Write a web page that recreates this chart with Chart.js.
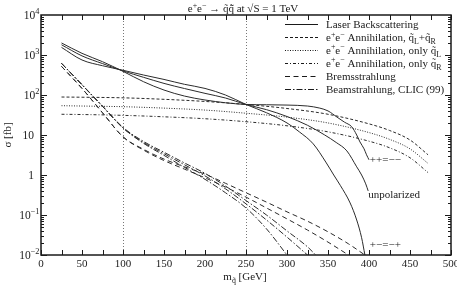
<!DOCTYPE html>
<html>
<head>
<meta charset="utf-8">
<script src="https://cdn.jsdelivr.net/npm/chart.js@4.4.1/dist/chart.umd.min.js"></script>
<style>
  html, body { margin: 0; padding: 0; background: #fff; }
</style>
</head>
<body>
<canvas id="squarkChart" width="457" height="287"></canvas>
<script>
// ---- data (squark mass in GeV, cross section in fb) ----
// laser backscattering, ++ = --
const ppMass  = [25, 50, 75, 100, 125, 150, 175, 200, 225, 250, 275, 300, 325, 340, 350, 361, 370, 379, 385, 389, 394, 397, 400];
const ppSigma = [2000, 1100, 680, 390, 215, 133, 94, 75, 64, 58, 57, 56, 53, 47, 40, 28, 21, 16, 10, 6.7, 4.5, 3.2, 2.4];
// laser backscattering, unpolarized
const unpolMass  = [25, 50, 75, 100, 125, 150, 175, 200, 225, 250, 275, 300, 325, 346, 360, 373, 385, 391, 396, 399];
const unpolSigma = [1800, 950, 610, 400, 277, 195, 145, 110, 84, 58, 43, 29, 17.5, 10, 6.5, 4, 1.6, 1.0, 0.6, 0.4];
// laser backscattering, +- = -+
const pmMass  = [25, 50, 75, 100, 125, 150, 175, 200, 225, 250, 275, 300, 315, 332, 348, 357, 365, 377, 385, 391, 395];
const pmSigma = [1550, 750, 540, 415, 316, 245, 185, 146, 100, 58, 36, 20, 12, 6, 2, 1.0, 0.55, 0.2, 0.075, 0.027, 0.01];

// e+e- annihilation
const eeMass    = [25, 50, 100, 150, 200, 250, 300, 350, 400, 425, 450, 472];
const eeLRSigma = [89, 88, 85, 78, 69, 58, 46, 33, 19, 13, 7.5, 3.2];
const eeLSigma  = [54, 53, 51, 47, 42, 35, 28, 20, 11.5, 7.8, 4.5, 1.95];
const eeRSigma  = [33, 32.5, 31, 28.5, 25.5, 21.5, 17, 12, 7, 4.8, 2.7, 1.15];

// bremsstrahlung
const bremsAMass  = [25, 50, 75, 100, 125, 150, 175, 200, 225, 250, 275, 300, 325, 350, 375, 395];
const bremsASigma = [520, 146, 36, 9, 4.4, 2.5, 1.6, 1.05, 0.62, 0.36, 0.21, 0.12, 0.07, 0.038, 0.019, 0.01];
const bremsBMass  = [25, 50, 75, 100, 125, 150, 175, 200, 225, 250, 275, 300, 325, 350, 375];
const bremsBSigma = [520, 146, 36, 9, 4.2, 2.3, 1.4, 0.85, 0.5, 0.28, 0.15, 0.08, 0.042, 0.021, 0.01];

// beamstrahlung, CLIC (99)
const beamAMass  = [25, 50, 75, 100, 125, 150, 175, 200, 225, 250, 275, 300];
const beamASigma = [620, 180, 52, 15, 6.2, 3.1, 1.55, 0.78, 0.36, 0.15, 0.045, 0.01];
const beamBMass  = [25, 50, 75, 100, 125, 150, 175, 200, 225, 250, 275, 300, 325];
const beamBSigma = [620, 180, 52, 15, 6.5, 3.4, 1.8, 0.95, 0.45, 0.19, 0.075, 0.028, 0.01];
const beamCMass  = [25, 50, 75, 100, 125, 150, 175, 200, 225, 250, 275, 300, 325, 335];
const beamCSigma = [620, 182, 53, 15.5, 6.9, 3.7, 2.0, 1.1, 0.53, 0.23, 0.1, 0.04, 0.016, 0.01];

// axes
const xTickValues = [0, 50, 100, 150, 200, 250, 300, 350, 400, 450, 500];
const yTickValues = [0.01, 0.1, 1, 10, 100, 1000, 10000];
const yTickLabels = ['10^{\u22122}', '10^{\u22121}', '1', '10', '10^{2}', '10^{3}', '10^{4}'];
const guideMasses = [100, 250];

// legend and labels
const legendLabels = [
  'Laser Backscattering',
  'e^{+}e^{\u2212} Annihilation, q\u0303_{L}+q\u0303_{R}',
  'e^{+}e^{\u2212} Annihilation, only q\u0303_{L}',
  'e^{+}e^{\u2212} Annihilation, only q\u0303_{R}',
  'Bremsstrahlung',
  'Beamstrahlung, CLIC (99)'
];
const annotTexts = ['++=\u2212\u2212', 'unpolarized', '+\u2212=\u2212+'];
const annotMass  = [401, 399, 401];
const annotSigma = [2.5, 0.34, 0.019];

// ---- styles ----
const SERIF = '"Liberation Serif", "DejaVu Serif", serif';
const INK = '#1a1a1a';
const LINE = '#2b2b2b';
const dashes = [[], [3, 2], [1, 1.5], [3, 2, 1, 2], [5, 3.5], [6, 2, 1.5, 2]];

function pts(ms, ss) { return ms.map((m, i) => ({ x: m, y: ss[i] })); }
function curve(ms, ss, style) {
  return {
    data: pts(ms, ss),
    borderColor: LINE,
    borderWidth: 1,
    borderDash: dashes[style],
    pointRadius: 0,
    fill: false,
    cubicInterpolationMode: 'monotone'
  };
}

const datasets = [
  curve(ppMass, ppSigma, 0),
  curve(unpolMass, unpolSigma, 0),
  curve(pmMass, pmSigma, 0),
  curve(eeMass, eeLRSigma, 1),
  curve(eeMass, eeLSigma, 2),
  curve(eeMass, eeRSigma, 3),
  curve(bremsAMass, bremsASigma, 4),
  curve(bremsBMass, bremsBSigma, 4),
  curve(beamAMass, beamASigma, 5),
  curve(beamBMass, beamBSigma, 5),
  curve(beamCMass, beamCSigma, 5)
];

// draws text with ^{sup} and _{sub} parts
function drawRich(ctx, str, x, y, size, align) {
  const segs = [];
  const re = /([_^])\{([^}]*)\}|([^_^]+)/g;
  let m;
  while ((m = re.exec(str))) {
    if (m[3]) segs.push({ t: m[3], k: 0 });
    else segs.push({ t: m[2], k: m[1] === '^' ? 1 : -1 });
  }
  const small = size * 0.72;
  let w = 0;
  segs.forEach(s => {
    ctx.font = (s.k ? small : size) + 'px ' + SERIF;
    s.w = ctx.measureText(s.t).width;
    w += s.w;
  });
  let cx = align === 'right' ? x - w : align === 'center' ? x - w / 2 : x;
  ctx.textAlign = 'left';
  ctx.textBaseline = 'alphabetic';
  segs.forEach(s => {
    ctx.font = (s.k ? small : size) + 'px ' + SERIF;
    const dy = s.k === 1 ? -size * 0.4 : s.k === -1 ? size * 0.28 : 0;
    ctx.fillText(s.t, cx, y + dy);
    cx += s.w;
  });
  return w;
}

const decorations = {
  id: 'decorations',
  beforeDatasetsDraw(chart) {
    const { ctx, chartArea: a, scales: { x } } = chart;
    ctx.save();
    ctx.strokeStyle = '#777';
    ctx.lineWidth = 1;
    ctx.setLineDash([1, 2]);
    guideMasses.forEach(v => {
      const px = Math.round(x.getPixelForValue(v)) + 0.5;
      ctx.beginPath();
      ctx.moveTo(px, a.top);
      ctx.lineTo(px, a.bottom);
      ctx.stroke();
    });
    ctx.restore();
  },
  afterDraw(chart) {
    const { ctx, chartArea: a, scales: { x, y } } = chart;
    ctx.save();
    ctx.fillStyle = INK;
    ctx.strokeStyle = INK;

    // frame
    ctx.lineWidth = 1.5;
    ctx.strokeRect(a.left, a.top, a.right - a.left, a.bottom - a.top);

    // inward ticks
    ctx.lineWidth = 1;
    ctx.beginPath();
    for (let v = 0; v <= 500; v += 25) {
      const px = Math.round(x.getPixelForValue(v)) + 0.5;
      ctx.moveTo(px, a.bottom); ctx.lineTo(px, a.bottom - 5);
      ctx.moveTo(px, a.top); ctx.lineTo(px, a.top + 5);
    }
    for (let e = -2; e <= 3; e++) {
      for (let k = 1; k <= 9; k++) {
        const py = Math.round(y.getPixelForValue(k * Math.pow(10, e))) + 0.5;
        const len = k === 1 ? 6 : 3;
        ctx.moveTo(a.left, py); ctx.lineTo(a.left + len, py);
        ctx.moveTo(a.right, py); ctx.lineTo(a.right - len, py);
      }
    }
    ctx.stroke();

    // tick labels
    ctx.font = '11px ' + SERIF;
    ctx.textAlign = 'center';
    ctx.textBaseline = 'alphabetic';
    xTickValues.forEach(v => ctx.fillText(String(v), x.getPixelForValue(v), 267));
    yTickValues.forEach((v, i) => {
      const lab = yTickLabels[i];
      const py = y.getPixelForValue(v) + 4;
      drawRich(ctx, lab, lab.indexOf('^') >= 0 ? 39.5 : 34, py, 11.5, 'right');
    });

    // axis titles
    drawRich(ctx, 'm_{q\u0303} [GeV]', 245, 280, 11, 'center');
    ctx.save();
    ctx.translate(11, 135);
    ctx.rotate(-Math.PI / 2);
    drawRich(ctx, '\u03c3 [fb]', 0, 0, 11, 'center');
    ctx.restore();

    // title
    drawRich(ctx, 'e^{+}e^{\u2212} \u2192 q\u0303q\u0303\u0304 at \u221aS = 1 TeV', 243, 12, 11, 'center');

    // legend
    legendLabels.forEach((lab, i) => {
      const ry = 24 + i * 12.9;
      ctx.beginPath();
      ctx.setLineDash(dashes[i]);
      ctx.lineWidth = 1;
      ctx.moveTo(285, Math.round(ry) + 0.5);
      ctx.lineTo(318, Math.round(ry) + 0.5);
      ctx.stroke();
      ctx.setLineDash([]);
      drawRich(ctx, lab, 326, ry + 4, 11, 'left');
    });

    // curve annotations
    annotTexts.forEach((t, i) => {
      drawRich(ctx, t, x.getPixelForValue(annotMass[i]), y.getPixelForValue(annotSigma[i]) + 4, 11, 'left');
    });
    ctx.restore();
  }
};

new Chart(document.getElementById('squarkChart').getContext('2d'), {
  type: 'line',
  data: { datasets },
  options: {
    responsive: false,
    animation: false,
    devicePixelRatio: 1,
    layout: { padding: { top: 15, right: 6, left: 0, bottom: 0 } },
    plugins: { legend: { display: false }, tooltip: { enabled: false } },
    scales: {
      x: {
        type: 'linear', min: 0, max: 500,
        grid: { display: false, drawTicks: false },
        border: { display: false },
        ticks: { display: false },
        afterFit: s => { s.height = 32; }
      },
      y: {
        type: 'logarithmic', min: 0.01, max: 10000,
        grid: { display: false, drawTicks: false },
        border: { display: false },
        ticks: { display: false },
        afterFit: s => { s.width = 41; }
      }
    }
  },
  plugins: [decorations]
});
</script>
</body>
</html>
